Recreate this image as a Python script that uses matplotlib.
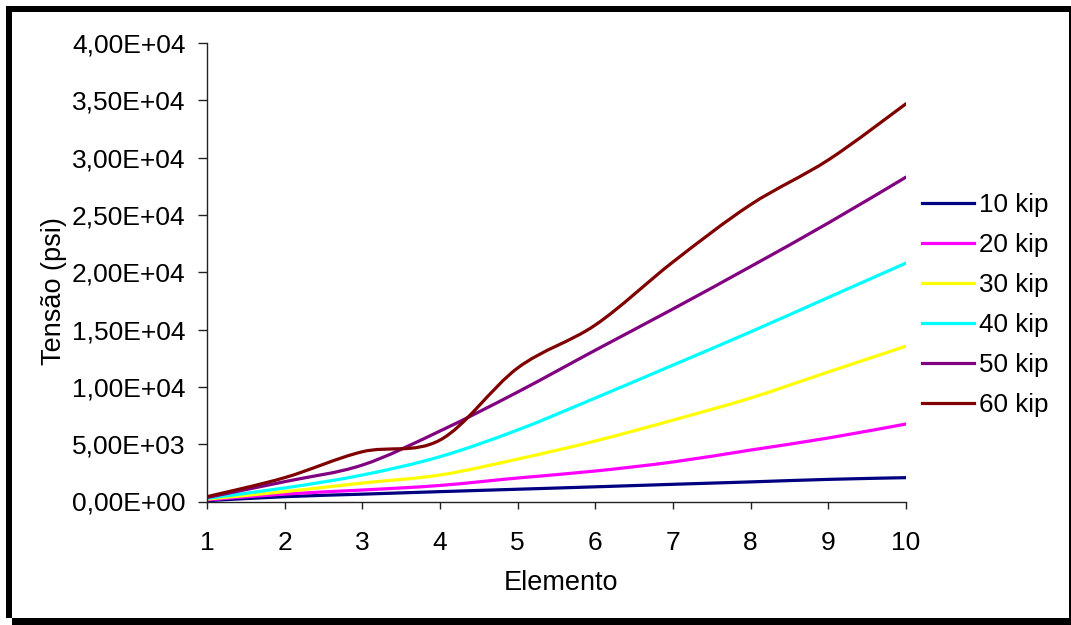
import matplotlib
matplotlib.use('Agg')
from matplotlib import pyplot
from matplotlib.path import Path
from matplotlib.patches import PathPatch, Rectangle
from matplotlib.lines import Line2D
import matplotlib.ticker as ticker
import numpy

pyplot.rcParams['font.family'] = ['Liberation Sans', 'DejaVu Sans']

# dados
elementos = [1, 2, 3, 4, 5, 6, 7, 8, 9, 10]
kip10 = [70, 420, 640, 860, 1070, 1280, 1500, 1710, 1930, 2080]
kip20 = [140, 650, 1000, 1400, 2050, 2660, 3450, 4490, 5540, 6760]
kip30 = [210, 860, 1610, 2310, 3700, 5280, 7100, 9030, 11300, 13550]
kip40 = [280, 1180, 2310, 3910, 6240, 9030, 11900, 14800, 17800, 20800]
kip50 = [350, 1730, 3180, 6150, 9550, 13200, 16800, 20500, 24300, 28300]
kip60 = [420, 2080, 4340, 5360, 11650, 15400, 20900, 25900, 29800, 34700]

series = [kip10, kip20, kip30, kip40, kip50, kip60]
nomes = ['10 kip', '20 kip', '30 kip', '40 kip', '50 kip', '60 kip']
cores = ['#000080', '#FF00FF', '#FFFF00', '#00FFFF', '#800080', '#800000']


def curva_suave(x, y):
    # linha suavizada estilo Excel (bezier cubica)
    p = numpy.column_stack([x, y]).astype(float)
    n = len(p)
    verts = [p[0]]
    codes = [Path.MOVETO]
    for i in range(n - 1):
        a = p[i - 1] if i > 0 else p[i]
        b = p[i + 2] if i + 2 < n else p[i + 1]
        c1 = p[i] + (p[i + 1] - a) / 6
        c2 = p[i + 1] - (b - p[i]) / 6
        verts += [c1, c2, p[i + 1]]
        codes += [Path.CURVE4] * 3
    return Path(verts, codes)


W, H = 1071, 625
fig = pyplot.figure(figsize=(W / 100, H / 100), dpi=100)
ax = fig.add_axes([207 / W, 1 - 501.5 / H, (906 - 207) / W, (501.5 - 43) / H])

handles = []
for ys, nome, cor in zip(series, nomes, cores):
    ax.add_patch(PathPatch(curva_suave(elementos, ys), facecolor='none',
                           edgecolor=cor, linewidth=2.3, capstyle='round'))
    handles.append(Line2D([], [], color=cor, linewidth=2.3, label=nome))

ax.set_xlim(1, 10)
ax.set_ylim(0, 40000)
ax.xaxis.set_major_locator(ticker.MultipleLocator(1))
ax.yaxis.set_major_locator(ticker.MultipleLocator(5000))
ax.yaxis.set_major_formatter(ticker.FuncFormatter(lambda v, p: '{:.2E}'.format(v).replace('.', ',')))

for s in ['top', 'right']:
    ax.spines[s].set_visible(False)
for s in ['left', 'bottom']:
    ax.spines[s].set_linewidth(1)
    ax.spines[s].set_color('#222222')

ax.tick_params(axis='y', direction='out', length=6.5, width=1, pad=9, labelsize=19, color='#222222')
ax.tick_params(axis='x', direction='out', length=5, width=1, pad=16, labelsize=19, color='#222222')

ax.set_ylabel('Tensão (psi)', fontsize=19.5)
ax.set_xlabel('Elemento', fontsize=19.5)
ax.yaxis.set_label_coords(67 / W, 1 - 291 / H, transform=fig.transFigure)
ax.xaxis.set_label_coords(561.5 / W, 1 - 570 / H, transform=fig.transFigure)

fig.legend(handles=handles, loc='center left', bbox_to_anchor=(922 / W, 1 - 305 / H),
           frameon=False, fontsize=18.7, handlelength=2.0, handletextpad=0.2,
           labelspacing=0.62, borderpad=0, borderaxespad=0)

# moldura preta com sombra
for x0, y0, x1, y1 in [(6, 6, 12, 618), (6, 6, 1071, 12), (1069, 6, 1071, 625), (12, 618, 1071, 625)]:
    fig.add_artist(Rectangle((x0 / W, 1 - y1 / H), (x1 - x0) / W, (y1 - y0) / H,
                             transform=fig.transFigure, facecolor='black', edgecolor='none'))

fig.savefig('out.png', dpi=100)
